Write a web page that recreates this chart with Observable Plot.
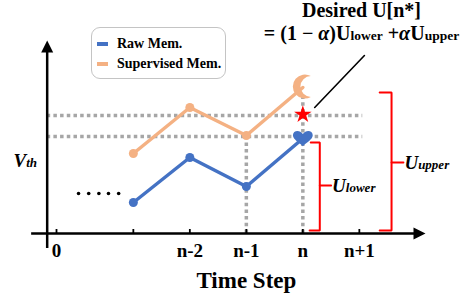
<!DOCTYPE html>
<html>
<head>
<meta charset="utf-8">
<script src="https://cdn.jsdelivr.net/npm/d3@7"></script>
<script src="https://cdn.jsdelivr.net/npm/@observablehq/plot@0.6"></script>
<style>
  body { margin: 0; background: #fff; }
  #wrap { position: relative; width: 464px; height: 301px; overflow: hidden; font-family: "Liberation Serif", "Times New Roman", serif; }
  #wrap svg { position: absolute; left: 0; top: 0; }
  #title { position: absolute; left: 259px; top: -1px; width: 205px; text-align: center; font-family: "Liberation Serif", serif; font-weight: bold; font-size: 20px; line-height: 23px; white-space: nowrap; color: #000; }
  #title .sub { font-size: 13.5px; }
  #legend { position: absolute; left: 91px; top: 27px; width: 135px; height: 52px; box-sizing: border-box; border: 1.5px solid #c4c4c4; border-radius: 9px; background: #fff; }
  .li { position: absolute; left: 0; width: 133px; height: 20px; font-family: "Liberation Serif", serif; font-weight: bold; font-size: 14px; line-height: 20px; white-space: nowrap; color: #000; }
  .sw { position: absolute; left: 5px; top: 8px; width: 11px; height: 4px; }
  .lt { position: absolute; left: 25px; top: 0; }
</style>
</head>
<body>
<div id="wrap"></div>
<script>
// ---- data (x in time-step units, y in V_th units) ----
const seriesNames = ["Raw Mem.", "Supervised Mem."];
const seriesColors = ["#4472C4", "#F4B183"];
const steps = [1.36, 2.36, 3.36, 4.36];          // n-3, n-2, n-1, n
const rawMem = [1.55, 3.8, 2.35, 4.75];
const supMem = [4.0, 6.3, 4.9, 7.3];
const tickPos = [0, 1.36, 2.36, 3.36, 4.36, 5.36];
const tickLabels = ["0", "", "n-2", "n-1", "n", "n+1"];
const guideLevels = [5.9, 4.85];                 // dotted horizontal guides
const guideSteps = [3.36, 4.36];                 // dotted vertical guides
const guideTops = [4.9, 7.0];
const desiredLevel = 5.95;                       // star
const lowerBracket = [[4.50, 4.55], [4.66, 4.55], [4.66, 0.15], [4.48, 0.15]];
const lowerTick = [[4.66, 2.4], [4.86, 2.4]];
const upperBracket = [[5.72, 7.05], [5.93, 7.05], [5.93, 0.15], [5.72, 0.15]];
const upperTick = [[5.93, 3.55], [6.14, 3.55]];
const pointer = [[5.45, 8.9], [4.57, 6.3]];
const ellipsisX = [0.39, 0.57, 0.75, 0.92, 1.10];
const ellipsisY = 2.0;
const yAxisX = -0.165;

const raw = steps.map((x, i) => ({x, y: rawMem[i]}));
const sup = steps.map((x, i) => ({x, y: supMem[i]}));

// custom symbols
const heart = {draw(c, size) {
  const s = Math.sqrt(size / Math.PI);
  c.moveTo(0, 0.85 * s);
  c.bezierCurveTo(-0.4 * s, 0.5 * s, -1.1 * s, 0.1 * s, -1.1 * s, -0.35 * s);
  c.bezierCurveTo(-1.1 * s, -0.9 * s, -0.35 * s, -1.0 * s, 0, -0.5 * s);
  c.bezierCurveTo(0.35 * s, -1.0 * s, 1.1 * s, -0.9 * s, 1.1 * s, -0.35 * s);
  c.bezierCurveTo(1.1 * s, 0.1 * s, 0.4 * s, 0.5 * s, 0, 0.85 * s);
  c.closePath();
}};
const moon = {draw(c, size) {
  const s = Math.sqrt(size / Math.PI);
  c.moveTo(0.5 * s, -0.866 * s);
  c.arc(0, 0, s, -Math.PI / 3, Math.PI / 3, true);
  c.arc(0.5 * s, 0, 0.866 * s, Math.PI / 2, 3 * Math.PI / 2, false);
  c.closePath();
}};
const arrowUp = {draw(c, size) {
  const s = Math.sqrt(size / Math.PI);
  c.moveTo(0, -s); c.lineTo(s, s); c.lineTo(-s, s); c.closePath();
}};
const arrowRight = {draw(c, size) {
  const s = Math.sqrt(size / Math.PI);
  c.moveTo(s, 0); c.lineTo(-s, s); c.lineTo(-s, -s); c.closePath();
}};

const grey = "#a6a6a6";
const font = "Liberation Serif";

const plot = Plot.plot({
  width: 464, height: 301,
  marginTop: 0, marginRight: 0, marginBottom: 0, marginLeft: 0,
  x: {type: "linear", domain: [0, 1], range: [56, 112.5], axis: null},
  y: {type: "linear", domain: [0, 10], range: [233, 33], axis: null},
  style: {fontFamily: font, background: "transparent"},
  marks: [
    // dotted guides
    Plot.ruleY(guideLevels, {x1: yAxisX, x2: 5.42, stroke: grey, strokeWidth: 3.5, strokeDasharray: "3.5,3.2"}),
    Plot.ruleX(guideSteps, {y1: 0, y2: (d, i) => guideTops[i], stroke: grey, strokeWidth: 3.5, strokeDasharray: "3.5,3.2"}),
    // axes
    Plot.ruleY([0], {x1: -0.44, x2: 6.42, stroke: "#000", strokeWidth: 2.5}),
    Plot.ruleX([yAxisX], {y1: -0.75, y2: 9.3, stroke: "#000", strokeWidth: 2.5}),
    Plot.dot([[yAxisX, 9.35]], {x: d => d[0], y: d => d[1], symbol: arrowUp, r: 6, fill: "#000", stroke: null}),
    Plot.dot([[6.425, 0]], {x: d => d[0], y: d => d[1], symbol: arrowRight, r: 6, fill: "#000", stroke: null}),
    Plot.ruleX(tickPos, {y1: 0, y2: 0.2, stroke: "#000", strokeWidth: 1.8}),
    Plot.text(tickPos, {x: d => d, y: -0.85, text: (d, i) => tickLabels[i], fontSize: 19, fontWeight: "bold", fill: "#000"}),
    Plot.text(["Time Step"], {x: 3.36, y: -2.35, text: d => d, fontSize: 23, fontWeight: "bold", fill: "#000"}),
    Plot.text(["V_th"], {x: -0.76, y: 3.65, text: d => d, textAnchor: "start", fontSize: 19, fontWeight: "bold", fontStyle: "italic", fill: "#000"}),
    // ellipsis
    Plot.dot(ellipsisX, {x: d => d, y: ellipsisY, r: 1.8, fill: "#000", stroke: null}),
    // brackets
    Plot.line(lowerBracket, {x: d => d[0], y: d => d[1], stroke: "#ff0000", strokeWidth: 2, strokeLinejoin: "miter"}),
    Plot.line(lowerTick, {x: d => d[0], y: d => d[1], stroke: "#ff0000", strokeWidth: 2}),
    Plot.line(upperBracket, {x: d => d[0], y: d => d[1], stroke: "#ff0000", strokeWidth: 2, strokeLinejoin: "miter"}),
    Plot.line(upperTick, {x: d => d[0], y: d => d[1], stroke: "#ff0000", strokeWidth: 2}),
    Plot.text(["U_lower"], {x: lowerTick[1][0], y: lowerTick[1][1], text: d => d, textAnchor: "start", dx: 1, fontSize: 19, fontWeight: "bold", fontStyle: "italic", fill: "#000"}),
    Plot.text(["U_upper"], {x: upperTick[1][0], y: upperTick[1][1], text: d => d, textAnchor: "start", dx: 1, fontSize: 19, fontWeight: "bold", fontStyle: "italic", fill: "#000"}),
    // series
    Plot.line(sup, {x: "x", y: "y", stroke: seriesColors[1], strokeWidth: 3.5}),
    Plot.dot(sup.slice(0, 3), {x: "x", y: "y", r: 4.5, fill: seriesColors[1], stroke: null}),
    Plot.dot(sup.slice(3), {x: "x", y: "y", r: 12, symbol: moon, fill: seriesColors[1], stroke: null, dx: 2, dy: -1}),
    Plot.line(raw, {x: "x", y: "y", stroke: seriesColors[0], strokeWidth: 3.5}),
    Plot.dot(raw.slice(0, 3), {x: "x", y: "y", r: 4.5, fill: seriesColors[0], stroke: null}),
    Plot.dot(raw.slice(3), {x: "x", y: "y", r: 9, symbol: heart, fill: seriesColors[0], stroke: null}),
    // desired star + pointer
    Plot.dot([desiredLevel], {x: steps[3], y: d => d, r: 5.5, symbol: "star", fill: "#ff0000", stroke: null}),
    Plot.line(pointer, {x: d => d[0], y: d => d[1], stroke: "#000", strokeWidth: 1.6})
  ]
});

// subscripts for "X_sub" labels
d3.select(plot).selectAll("text").each(function() {
  const t = this.textContent;
  if (t.includes("_")) {
    const [base, sub] = t.split("_");
    const el = d3.select(this);
    el.text(null);
    el.append("tspan").text(base);
    el.append("tspan").attr("font-size", "13px").text(sub);
  }
});

const wrap = document.getElementById("wrap");
wrap.appendChild(plot);

// title / formula
const title = document.createElement("div");
title.id = "title";
title.innerHTML = 'Desired U[n*]<br>= (1 − <i>α</i>)U<span class="sub">lower</span> +<i>α</i>U<span class="sub">upper</span>';
wrap.appendChild(title);

// legend
const legend = document.createElement("div");
legend.id = "legend";
seriesNames.forEach((name, i) => {
  const li = document.createElement("div");
  li.className = "li";
  li.style.top = (6 + i * 20) + "px";
  li.innerHTML = `<span class="sw" style="background:${seriesColors[i]}"></span><span class="lt">${name}</span>`;
  legend.appendChild(li);
});
wrap.appendChild(legend);
</script>
</body>
</html>
